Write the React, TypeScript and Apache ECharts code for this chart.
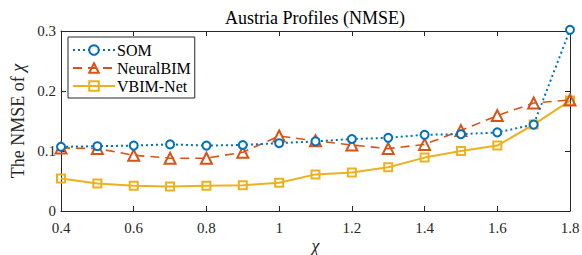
import React, { useEffect, useRef } from "react";
import * as echarts from "echarts";

const chi = [0.4, 0.5, 0.6, 0.7, 0.8, 0.9, 1.0, 1.1, 1.2, 1.3, 1.4, 1.5, 1.6, 1.7, 1.8];
const som = [0.107, 0.108, 0.109, 0.111, 0.109, 0.110, 0.113, 0.116, 0.120, 0.122, 0.127, 0.128, 0.131, 0.144, 0.302];
const neuralBIM = [0.105, 0.104, 0.093, 0.088, 0.088, 0.098, 0.125, 0.117, 0.110, 0.104, 0.111, 0.134, 0.159, 0.180, 0.185];
const vbimNet = [0.054, 0.046, 0.042, 0.041, 0.042, 0.043, 0.047, 0.061, 0.064, 0.073, 0.089, 0.100, 0.109, 0.144, 0.184];

const FONT = "'Liberation Serif', 'Times New Roman', serif";

export default function App() {
  const ref = useRef<HTMLDivElement>(null);
  useEffect(() => {
    if (!ref.current) return;
    const chart = echarts.init(ref.current, null, { renderer: "svg" });
    const pair = (ys: number[]) => chi.map((x, i) => [x, ys[i]]);
    const axisCommon = {
      axisLine: { show: true, onZero: false, lineStyle: { color: "#262626", width: 1 } },
      axisTick: { show: true, inside: true, length: 5, lineStyle: { color: "#262626" } },
      splitLine: { show: false },
    };
    chart.setOption({
      animation: false,
      backgroundColor: "#fff",
      textStyle: { fontFamily: FONT },
      title: {
        text: "Austria Profiles (NMSE)",
        left: 310,
        textAlign: "center",
        top: 4,
        textStyle: { fontFamily: FONT, fontSize: 18, fontWeight: "normal", color: "#000" },
      },
      grid: { left: 61, right: 12, top: 31, bottom: 44, outerBoundsMode: "none", containLabel: false },
      legend: {
        orient: "vertical",
        left: 68,
        top: 37,
        backgroundColor: "#fff",
        borderColor: "#262626",
        borderWidth: 1,
        borderRadius: 0,
        padding: [5, 4, 4, 4],
        itemGap: 2,
        itemWidth: 42,
        itemHeight: 12,
        textStyle: { fontFamily: FONT, fontSize: 16, color: "#000", padding: [0, 0, 0, -3] },
        data: ["SOM", "NeuralBIM", "VBIM-Net"],
      },
      xAxis: [
        {
          type: "value",
          min: 0.4,
          max: 1.8,
          interval: 0.2,
          position: "bottom",
          ...axisCommon,
          axisLabel: {
            fontFamily: FONT,
            fontSize: 15,
            color: "#262626",
            margin: 9,
            formatter: (v: number) => String(Math.round(v * 10) / 10),
          },
          name: "χ",
          nameLocation: "middle",
          nameGap: 26,
          nameMoveOverlap: false,
          nameTextStyle: { fontFamily: FONT, fontSize: 18, fontStyle: "italic", color: "#262626" },
        },
        {
          type: "value",
          min: 0.4,
          max: 1.8,
          interval: 0.2,
          position: "top",
          ...axisCommon,
          axisLabel: { show: false },
        },
      ],
      yAxis: [
        {
          type: "value",
          min: 0,
          max: 0.3,
          interval: 0.1,
          position: "left",
          ...axisCommon,
          axisLabel: {
            fontFamily: FONT,
            fontSize: 15,
            color: "#262626",
            margin: 5,
            formatter: (v: number) => String(Math.round(v * 10) / 10),
          },
          name: "{a|The NMSE of }{b|χ}",
          nameLocation: "middle",
          nameGap: 34,
          nameRotate: 90,
          nameMoveOverlap: false,
          nameTextStyle: {
            rich: {
              a: { fontFamily: FONT, fontSize: 18, color: "#262626" },
              b: { fontFamily: FONT, fontSize: 18, fontStyle: "italic", color: "#262626" },
            },
          },
        },
        {
          type: "value",
          min: 0,
          max: 0.3,
          interval: 0.1,
          position: "right",
          ...axisCommon,
          axisLabel: { show: false },
        },
      ],
      series: [
        {
          name: "SOM",
          type: "line",
          data: pair(som),
          clip: false,
          symbol: "circle",
          symbolSize: 8,
          showAllSymbol: true,
          color: "#0072BD",
          lineStyle: { color: "#0072BD", width: 2, type: [2, 3] },
          itemStyle: { color: "#fff", borderColor: "#0072BD", borderWidth: 2 },
          z: 3,
        },
        {
          name: "NeuralBIM",
          type: "line",
          data: pair(neuralBIM),
          clip: false,
          symbol: "triangle",
          symbolSize: 11,
          showAllSymbol: true,
          color: "#D95319",
          lineStyle: { color: "#D95319", width: 1.6, type: [9, 6] },
          itemStyle: { color: "rgba(255,255,255,0)", borderColor: "#D95319", borderWidth: 2 },
          z: 2,
        },
        {
          name: "VBIM-Net",
          type: "line",
          data: pair(vbimNet),
          clip: false,
          symbol: "rect",
          symbolSize: 8,
          showAllSymbol: true,
          color: "#EDB120",
          lineStyle: { color: "#EDB120", width: 2 },
          itemStyle: { color: "rgba(255,255,255,0)", borderColor: "#EDB120", borderWidth: 2 },
          z: 1,
        },
      ],
    });
    return () => chart.dispose();
  }, []);
  return <div ref={ref} style={{ width: 582, height: 255, position: "absolute", left: 0, top: 0 }} />;
}
